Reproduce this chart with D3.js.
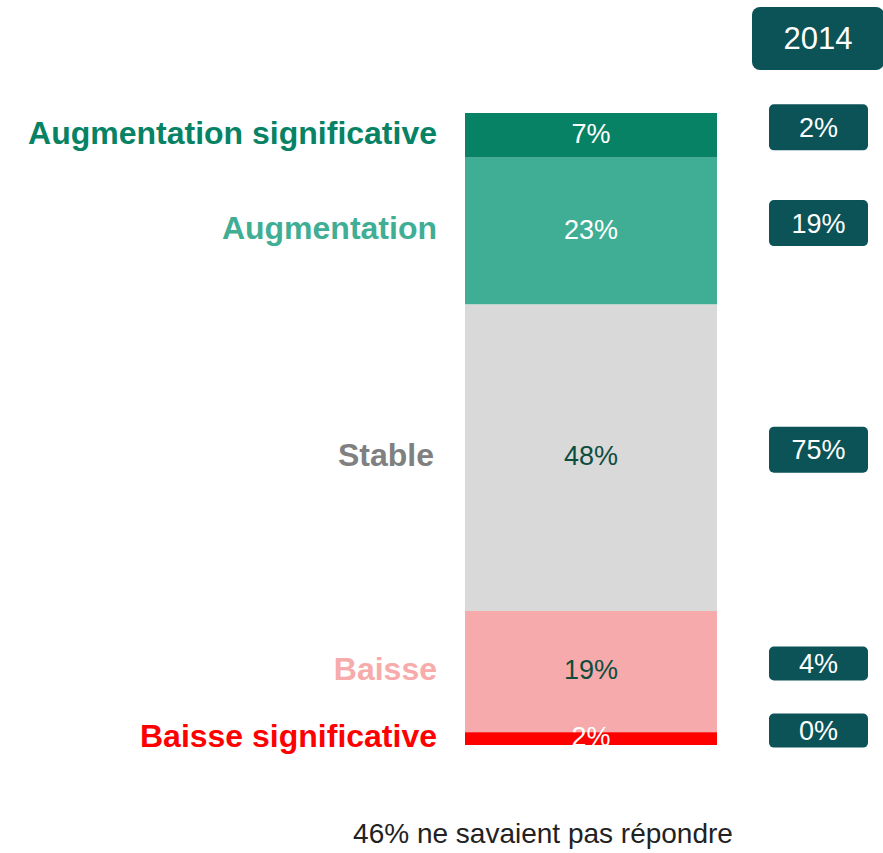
<!DOCTYPE html>
<html>
<head>
<meta charset="utf-8">
<script src="https://cdn.jsdelivr.net/npm/d3@7"></script>
<style>
  body { margin: 0; background: #fff; }
  svg { font-family: "Liberation Sans", Arial, sans-serif; }
</style>
</head>
<body>
<svg id="chart"></svg>
<script>
// values
const categories = ["Augmentation significative", "Augmentation", "Stable", "Baisse", "Baisse significative"];
const current = [7, 23, 48, 19, 2];
const previous = [2, 19, 75, 4, 0];
const previousYear = "2014";
const footnote = "46% ne savaient pas répondre";

const width = 883;
const height = 853;

const barColors = ["#078264", "#3fae94", "#d9d9d9", "#f6aaab", "#ff0000"];
const labelColors = ["#078264", "#3fae94", "#808080", "#f7abab", "#ff0000"];
const valueColors = ["#fff", "#fff", "#0e4d3e", "#0e4d3e", "#fff"];
const badgeFill = "#0b5357";

const svg = d3.select("#chart")
    .attr("width", width)
    .attr("height", height);

// stack the single bar
let acc = 0;
const segs = current.map((v, i) => {
    const s = {i, cat: categories[i], v, y0: acc, y1: acc + v, prev: previous[i]};
    acc += v;
    return s;
});

const y = d3.scaleLinear()
    .domain([0, d3.sum(current)])
    .range([113, 745]);

const x = d3.scaleBand()
    .domain(["bar"])
    .range([465, 717]);

const mid = d => (y(d.y0) + y(d.y1)) / 2;

svg.append("g")
    .selectAll("rect")
    .data(segs)
    .enter().append("rect")
    .attr("x", x("bar"))
    .attr("y", d => y(d.y0))
    .attr("width", x.bandwidth())
    .attr("height", d => y(d.y1) - y(d.y0))
    .attr("fill", d => barColors[d.i]);

svg.append("g")
    .selectAll("text")
    .data(segs)
    .enter().append("text")
    .attr("x", x("bar") + x.bandwidth() / 2)
    .attr("y", d => mid(d) - 2)
    .attr("dy", "0.35em")
    .attr("text-anchor", "middle")
    .attr("font-size", 27)
    .attr("fill", d => valueColors[d.i])
    .text(d => d.v + "%");

// category labels on the left
svg.append("g")
    .selectAll("text")
    .data(segs)
    .enter().append("text")
    .attr("x", d => d.i === 2 ? 434 : 437)
    .attr("y", d => mid(d) - 3)
    .attr("dy", "0.35em")
    .attr("text-anchor", "end")
    .attr("font-size", 32)
    .attr("font-weight", "bold")
    .attr("fill", d => labelColors[d.i])
    .text(d => d.cat);

// previous year badges
const badge = svg.append("g");
badge.append("rect")
    .attr("x", 752).attr("y", 7)
    .attr("width", 132).attr("height", 63)
    .attr("rx", 8)
    .attr("fill", badgeFill);
badge.append("text")
    .attr("x", 818).attr("y", 38.5)
    .attr("dy", "0.35em")
    .attr("text-anchor", "middle")
    .attr("font-size", 31)
    .attr("fill", "#fff")
    .text(previousYear);

const bh = d => d.i < 3 ? 46 : 34;
const prevG = svg.append("g")
    .selectAll("g")
    .data(segs)
    .enter().append("g")
    .attr("transform", d => `translate(769,${mid(d) - 8})`);

prevG.append("rect")
    .attr("x", 0)
    .attr("y", d => -bh(d) / 2)
    .attr("width", 99)
    .attr("height", bh)
    .attr("rx", 5)
    .attr("fill", badgeFill);

prevG.append("text")
    .attr("x", 49.5)
    .attr("y", 0)
    .attr("dy", "0.35em")
    .attr("text-anchor", "middle")
    .attr("font-size", 27)
    .attr("fill", "#fff")
    .text(d => d.prev + "%");

svg.append("text")
    .attr("x", 543)
    .attr("y", 843)
    .attr("text-anchor", "middle")
    .attr("font-size", 28)
    .attr("fill", "#222")
    .text(footnote);
</script>
</body>
</html>
